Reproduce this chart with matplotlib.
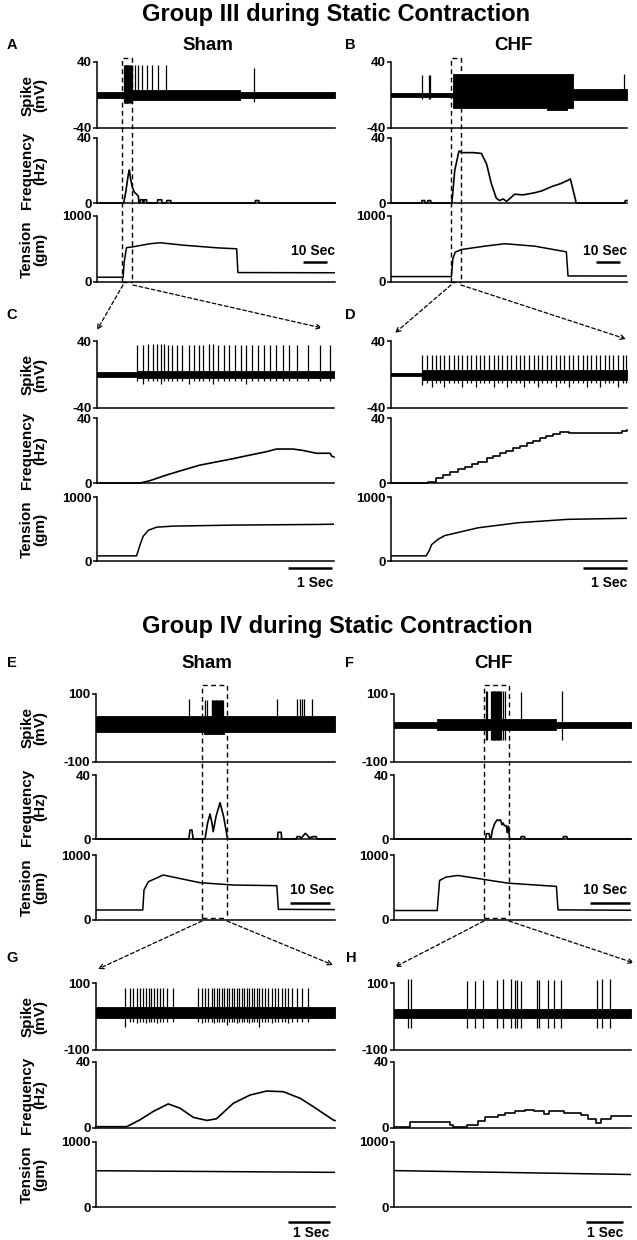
import matplotlib
matplotlib.use('Agg')
import matplotlib.pyplot as plt

plt.rcParams['font.family'] = ['Liberation Sans', 'DejaVu Sans']
plt.rcParams['font.weight'] = 'bold'
plt.rcParams['axes.unicode_minus'] = False

# ---------------- DATA ----------------
# Group III Sham (A), time in s
A_band_t = [0, 11.3, 60.0, 100]
A_band_c = [0, 0, 0, 0]
A_band_h = [3.5, 6.5, 3.5, 3.5]
A_spk_t = [11.4, 11.6, 11.8, 12.0, 12.2, 12.4, 12.6, 12.8, 13.0, 13.2, 13.5, 13.8, 14.1, 14.4, 14.7,
           16.0, 17.4, 18.8, 20.8, 22.9, 25.7, 29.2, 66.0]
A_spk_top = [36] * 22 + [33]
A_spk_bot = [-10] * 15 + [-6] * 7 + [-8]
A_freq_t = [0, 11.2, 12.0, 13.2, 13.6, 14.2, 15.0, 15.8, 16.6, 17.4, 17.6, 18.1, 18.2, 19.2, 19.3, 19.7, 19.8,
            20.8, 20.9, 25.4, 25.5, 27.2, 27.3, 29.2, 29.3, 31.0, 31.1, 66.5, 66.6, 68.0, 68.1, 100]
A_freq_v = [0, 0, 6, 18, 20.3, 14, 9, 6.5, 5.5, 4, 0, 0, 2, 2, 0, 0, 2, 2, 0, 0, 2, 2, 0, 0, 1.5, 1.5, 0,
            0, 1.5, 1.5, 0, 0]
A_ten_t = [0, 11.0, 11.4, 12.4, 15.3, 22.3, 26.5, 36.3, 50.3, 58.7, 59.2, 100]
A_ten_v = [72, 72, 300, 520, 534, 580, 595, 558, 518, 503, 143, 140]

# Group III CHF (B)
B_band_t = [0, 26.3, 66.0, 74.5, 77.1, 100]
B_band_c = [0, 5, 4, 5, 0.5, 0.5]
B_band_h = [3, 21, 22, 21, 6.5, 6.5]
B_spk_t = [13.3, 16.1, 16.7, 98.7]
B_spk_top = [24, 24, 24, 25.5]
B_spk_bot = [-5, -5, -5, -5]
B_freq_t = [0, 13.0, 13.1, 14.3, 14.4, 15.5, 15.6, 16.8, 16.9, 25.8, 27.0, 28.8, 30.0, 35.0, 38.3, 40.5,
            42.5, 44.6, 46.0, 47.5, 49.0, 52.4, 56.0, 60.9, 64.0, 67.9, 72.0, 75.0, 76.0, 78.5, 99.0, 99.3, 100]
B_freq_v = [0, 0, 1.5, 1.5, 0, 0, 1.5, 1.5, 0, 0, 20, 32, 31, 31, 30.5, 24, 12, 3, 1.5, 2.5, 1, 5.4, 5,
            6.3, 7.5, 10, 12, 14, 14.8, 0, 0, 1.5, 1.5]
B_ten_t = [0, 25.6, 26.2, 27.2, 29.8, 39.7, 48.2, 60.9, 74.3, 75.0, 100]
B_ten_v = [82, 82, 350, 451, 492, 543, 580, 543, 457, 92, 90]

# Group III Sham expanded (C)
C_band_t = [0, 0.9, 5.39]
C_band_c = [0, 0, 0]
C_band_h = [2.5, 4.5, 4.5]
C_spk_t = [0.90, 1.04, 1.17, 1.28, 1.37, 1.45, 1.52, 1.61, 1.71, 1.81, 1.94, 2.09, 2.20, 2.32, 2.42, 2.55,
           2.64, 2.76, 2.89, 3.01, 3.14, 3.27, 3.40, 3.53, 3.67, 3.80, 3.93, 4.08, 4.22, 4.37, 4.54, 4.79,
           5.08, 5.30]
C_spk_top = [35, 35, 36, 36, 37, 37, 36, 35, 35, 35, 35, 35, 35, 35, 35, 37, 37, 35, 35, 35, 35, 35, 35,
             35, 35, 35, 35, 35, 35, 35, 35, 35, 35, 35]
C_spk_bot = [-8, -11, -8, -8, -8, -11, -8, -8, -8, -8, -8, -11, -8, -8, -8, -8, -11, -8, -8, -8, -8, -8,
             -11, -8, -8, -8, -8, -8, -8, -8, -8, -8, -8, -8]
C_freq_t = [0, 0.98, 1.20, 1.58, 1.96, 2.34, 2.72, 3.10, 3.48, 3.86, 4.08, 4.46, 4.69, 4.99, 5.30, 5.34, 5.39]
C_freq_v = [0, 0, 1.4, 4.9, 8.0, 11.0, 13.0, 15.0, 17.2, 19.3, 20.9, 20.9, 20.0, 18.3, 18.3, 16.5, 16.0]
C_ten_t = [0, 0.90, 0.98, 1.05, 1.17, 1.36, 1.73, 3.10, 4.99, 5.39]
C_ten_v = [80, 80, 254, 386, 481, 529, 545, 561, 571, 575]

# Group III CHF expanded (D)
D_band_t = [0, 0.71, 5.36]
D_band_c = [0, -1, -1]
D_band_h = [1.5, 6, 6]
D_spk_t = [0.71, 0.81, 0.93, 1.02, 1.11, 1.21, 1.32, 1.42, 1.52, 1.62, 1.72, 1.82, 1.92, 2.02, 2.12, 2.23,
           2.33, 2.43, 2.53, 2.63, 2.73, 2.84, 2.93, 3.03, 3.14, 3.24, 3.34, 3.44, 3.54, 3.64, 3.74, 3.84,
           3.94, 4.05, 4.14, 4.24, 4.35, 4.45, 4.55, 4.65, 4.75, 4.85, 4.95, 5.05, 5.15, 5.26, 5.34]
D_spk_top = [23] * 47
D_spk_bot = [-12, -10, -15, -10, -10, -15, -10, -10, -10, -15, -10, -10, -15, -10, -10, -10, -15, -10,
             -10, -15, -10, -10, -10, -15, -10, -10, -15, -10, -10, -10, -15, -10, -10, -15, -10, -10,
             -10, -15, -10, -10, -15, -10, -10, -10, -15, -10, -10]
D_freq_t = [0, 0.84, 1.03, 1.18, 1.33, 1.52, 1.67, 1.83, 1.98, 2.17, 2.32, 2.47, 2.62, 2.77, 2.92, 3.08,
            3.23, 3.38, 3.53, 3.68, 3.83, 3.95, 4.05, 5.08, 5.25, 5.36]
D_freq_v = [0, 0.8, 2.9, 4.9, 7.0, 8.4, 10.1, 11.7, 13.1, 15.2, 16.8, 18.3, 19.9, 21.3, 23.0, 24.4, 26.0,
            27.5, 28.9, 30.2, 31.2, 31.6, 30.6, 30.6, 31.8, 32.6]
D_ten_t = [0, 0.80, 0.88, 0.92, 1.07, 1.22, 1.98, 2.89, 4.02, 5.36]
D_ten_v = [80, 80, 180, 254, 340, 397, 519, 598, 651, 667]

# Group IV Sham (E)
E_band_t = [0, 27.0, 32.0, 59.75]
E_band_c = [12, 8, 12, 12]
E_band_h = [23, 27, 23, 23]
E_spk_t = [23.3, 27.25, 27.7, 28.9, 29.1, 29.3, 29.5, 29.7, 29.9, 30.1, 30.3, 30.5, 30.7, 30.9, 31.1, 31.3,
           31.5, 31.8, 45.3, 50.2, 51.0, 51.4, 52.0, 53.9]
E_spk_top = [85] + [83] * 17 + [85] * 6
E_spk_bot = [0] * 24
E_freq_t = [0, 23.2, 23.5, 24.0, 24.3, 27.25, 27.9, 28.5, 29.0, 29.3, 30.0, 31.0, 31.9, 32.9, 45.4, 45.5,
            46.3, 46.4, 50.0, 50.3, 50.9, 51.3, 51.8, 52.3, 52.8, 53.2, 53.8, 54.3, 55.0, 55.3, 59.75]
E_freq_v = [0, 0, 5.6, 5.6, 0, 0, 10, 15.6, 10, 4.6, 14, 22.7, 14, 0, 0, 4.2, 4.2, 0, 0, 1.5, 1.5, 0.5,
            2, 3.5, 2.5, 1, 1, 1.5, 1.5, 0, 0]
E_ten_t = [0, 11.7, 12.0, 13.1, 16.8, 26.0, 34.3, 45.2, 45.6, 59.75]
E_ten_v = [154, 154, 462, 589, 692, 574, 538, 528, 164, 160]

# Group IV CHF (F)
F_band_t = [0, 10.8, 40.6, 59.25]
F_band_c = [10, 10, 10, 10]
F_band_h = [9, 17, 9, 9]
F_spk_t = [22.9, 23.3, 24.3, 24.5, 24.7, 24.9, 25.1, 25.3, 25.5, 25.7, 25.9, 26.1, 26.3, 26.5, 26.7,
           27.25, 27.8, 31.7, 42.1]
F_spk_top = [110] * 17 + [105, 110]
F_spk_bot = [-34] * 17 + [-4, -34]
F_freq_t = [0, 22.9, 23.1, 23.8, 24.0, 24.3, 24.6, 25.2, 25.8, 26.2, 26.6, 27.0, 27.25, 27.6, 28.1,
            28.3, 28.6, 28.9, 31.6, 31.8, 32.6, 32.8, 42.2, 42.4, 43.2, 43.4, 59.25]
F_freq_v = [0, 0, 3.3, 3.3, 0.5, 1, 5.6, 9.8, 12, 11.5, 12, 9, 10, 8.3, 8.3, 4, 8, 0, 0, 1.5, 1.5, 0, 0,
            1.5, 1.5, 0, 0]
F_ten_t = [0, 10.8, 11.4, 13.0, 16.0, 28.5, 40.6, 41.0, 59.25]
F_ten_v = [146, 146, 608, 660, 685, 567, 517, 156, 150]

# Group IV Sham expanded (G)
G_band_t = [0, 5.69]
G_band_c = [12, 12]
G_band_h = [16, 16]
G_spk_t = [0.69, 0.81, 0.89, 0.97, 1.05, 1.11, 1.18, 1.25, 1.31, 1.38, 1.45, 1.52, 1.60, 1.68, 1.84,
           2.44, 2.52, 2.60, 2.67, 2.75, 2.82, 2.87, 2.93, 2.99, 3.05, 3.11, 3.17, 3.23, 3.29, 3.35, 3.40,
           3.47, 3.52, 3.59, 3.64, 3.71, 3.77, 3.83, 3.89, 3.95, 4.02, 4.10, 4.18, 4.26, 4.34, 4.42, 4.50,
           4.58, 4.66, 4.78, 4.91, 5.05]
G_spk_top = [86] * 52
G_spk_bot = [-30, -15, -15, -20, -15, -15, -20, -15, -15, -15, -20, -15, -15, -15, -15, -15, -20, -15,
             -15, -15, -20, -15, -15, -15, -15, -25, -15, -15, -15, -20, -15, -15, -15, -15, -20, -15,
             -15, -15, -30, -15, -15, -15, -20, -15, -15, -15, -15, -20, -15, -15, -15, -15]
G_freq_t = [0, 0.73, 1.05, 1.36, 1.72, 2.0, 2.32, 2.64, 2.87, 3.27, 3.67, 4.06, 4.46, 4.86, 5.17, 5.64, 5.69]
G_freq_v = [0.8, 0.8, 5, 10, 14.6, 12, 6.4, 4.6, 5.6, 15, 20, 22.4, 22, 18, 13, 5, 4.5]
G_ten_t = [0, 5.69]
G_ten_v = [558, 533]

# Group IV CHF expanded (H)
H_band_t = [0, 6.41]
H_band_c = [10, 10]
H_band_h = [13, 13]
H_spk_t = [0.38, 0.47, 1.97, 2.20, 2.41, 2.78, 2.95, 3.17, 3.26, 3.32, 3.44, 3.87, 3.91, 4.16, 4.34, 4.51,
           5.49, 5.62, 5.83]
H_spk_top = [112, 112, 105, 105, 108, 108, 112, 112, 110, 108, 105, 108, 108, 108, 108, 108, 108, 112, 112]
H_spk_bot = [-35] * 19
H_freq_t = [0, 0.42, 1.51, 1.59, 1.98, 2.27, 2.45, 2.81, 2.99, 3.26, 3.53, 3.80, 4.07, 4.18, 4.25, 4.61,
            5.06, 5.24, 5.45, 5.60, 5.87, 6.41]
H_freq_v = [0.5, 3.4, 2.0, 0.5, 2.0, 4.4, 6.6, 8.0, 9.3, 10.5, 11.0, 10.3, 8.5, 10.3, 10.3, 9.3, 8.0, 5.3,
            3.2, 5.3, 7.3, 7.3]
H_ten_t = [0, 6.41]
H_ten_v = [560, 500]

spike_ticks_III = [-40, 40]
spike_ticks_IV = [-100, 100]
freq_ticks = [0, 40]
ten_ticks = [0, 1000]

# ---------------- LAYOUT ----------------
W, H = 637, 1240
fig = plt.figure(figsize=(W / 100, H / 100), dpi=100)


def add_ax(x0, x1, ytop, ybot):
    return fig.add_axes([x0 / W, 1 - ybot / H, (x1 - x0) / W, (ybot - ytop) / H])


def style(ax, ticks, tmax):
    ax.set_xlim(0, tmax)
    ax.set_ylim(ticks[0], ticks[1])
    ax.set_yticks(ticks)
    ax.set_yticklabels([str(t) for t in ticks])
    ax.set_xticks([])
    for s in ['top', 'right']:
        ax.spines[s].set_visible(False)
    for s in ['left', 'bottom']:
        ax.spines[s].set_linewidth(1.1)
    ax.tick_params(axis='y', direction='out', length=3, width=1.1, labelsize=9.5, pad=1)
    ax.patch.set_alpha(0)


def panel(x0, x1, ys, tmax, sticks, band, spk, freq, ten, freq_steps=False):
    a1 = add_ax(x0, x1, ys[0], ys[1])
    a2 = add_ax(x0, x1, ys[2], ys[3])
    a3 = add_ax(x0, x1, ys[4], ys[5])
    bt, bc, bh = band
    a1.fill_between(bt, [c - h for c, h in zip(bc, bh)], [c + h for c, h in zip(bc, bh)],
                    step='post', color='black', lw=0.6)
    st, stop, sbot = spk
    a1.vlines(st, sbot, stop, color='black', lw=0.9, clip_on=False)
    style(a1, sticks, tmax)
    ft, fv = freq
    a2.plot(ft, fv, color='black', lw=1.2, drawstyle='steps-post' if freq_steps else 'default',
            clip_on=False)
    style(a2, freq_ticks, tmax)
    tt, tv = ten
    a3.plot(tt, tv, color='black', lw=1.1)
    style(a3, ten_ticks, tmax)
    return a1, a2, a3


yA = (62, 128, 138, 203, 216, 282)
yC = (341, 408, 418, 483, 497, 561)
yE = (694, 762, 775, 839, 855, 920)
yG = (983, 1050, 1062, 1128, 1142, 1207)

panel(97, 335, yA, 100, spike_ticks_III, (A_band_t, A_band_c, A_band_h),
      (A_spk_t, A_spk_top, A_spk_bot), (A_freq_t, A_freq_v), (A_ten_t, A_ten_v))
panel(391, 627, yA, 100, spike_ticks_III, (B_band_t, B_band_c, B_band_h),
      (B_spk_t, B_spk_top, B_spk_bot), (B_freq_t, B_freq_v), (B_ten_t, B_ten_v))
panel(97, 334, yC, 5.39, spike_ticks_III, (C_band_t, C_band_c, C_band_h),
      (C_spk_t, C_spk_top, C_spk_bot), (C_freq_t, C_freq_v), (C_ten_t, C_ten_v))
panel(391, 627, yC, 5.36, spike_ticks_III, (D_band_t, D_band_c, D_band_h),
      (D_spk_t, D_spk_top, D_spk_bot), (D_freq_t, D_freq_v), (D_ten_t, D_ten_v), freq_steps=True)
panel(96, 335, yE, 59.75, spike_ticks_IV, (E_band_t, E_band_c, E_band_h),
      (E_spk_t, E_spk_top, E_spk_bot), (E_freq_t, E_freq_v), (E_ten_t, E_ten_v))
panel(394, 631, yE, 59.25, spike_ticks_IV, (F_band_t, F_band_c, F_band_h),
      (F_spk_t, F_spk_top, F_spk_bot), (F_freq_t, F_freq_v), (F_ten_t, F_ten_v))
panel(96, 335, yG, 5.69, spike_ticks_IV, (G_band_t, G_band_c, G_band_h),
      (G_spk_t, G_spk_top, G_spk_bot), (G_freq_t, G_freq_v), (G_ten_t, G_ten_v))
panel(394, 631, yG, 6.41, spike_ticks_IV, (H_band_t, H_band_c, H_band_h),
      (H_spk_t, H_spk_top, H_spk_bot), (H_freq_t, H_freq_v), (H_ten_t, H_ten_v), freq_steps=True)

# overlay in pixel coordinates
ov = fig.add_axes([0, 0, 1, 1], zorder=10)
ov.set_xlim(0, W)
ov.set_ylim(H, 0)
ov.axis('off')
ov.patch.set_alpha(0)

ov.text(336, 15, 'Group III during Static Contraction', ha='center', va='center', fontsize=17,
        fontweight='bold')
ov.text(337, 627, 'Group IV during Static Contraction', ha='center', va='center', fontsize=17,
        fontweight='bold')
for x, y, s in [(208, 45, 'Sham'), (513, 45, 'CHF'), (207, 663, 'Sham'), (493, 663, 'CHF')]:
    ov.text(x, y, s, ha='center', va='center', fontsize=13.5, fontweight='bold')
for x, y, s in [(12, 45, 'A'), (350, 45, 'B'), (12, 315, 'C'), (350, 315, 'D'),
                (12, 663, 'E'), (349, 663, 'F'), (12, 958, 'G'), (351, 958, 'H')]:
    ov.text(x, y, s, ha='center', va='center', fontsize=10.5, fontweight='bold')

for ys in (yA, yC, yE, yG):
    for (ya, yb), lab in zip([(ys[0], ys[1]), (ys[2], ys[3]), (ys[4], ys[5])],
                             ['Spike\n(mV)', 'Frequency\n(Hz)', 'Tension\n(gm)']):
        ov.text(34, (ya + yb) / 2, lab, rotation=90, ha='center', va='center', fontsize=11,
                fontweight='bold', linespacing=0.95, multialignment='center')

# scale bars
for x0, x1, y, tx, ty, s in [(303, 327, 262, 313, 251, '10 Sec'), (596, 620, 262, 605, 251, '10 Sec'),
                              (288, 332, 568, 315, 583, '1 Sec'), (583, 627, 568, 609, 583, '1 Sec'),
                              (290, 330, 903, 312, 890, '10 Sec'), (590, 630, 903, 605, 890, '10 Sec'),
                              (288, 330, 1222, 311, 1233, '1 Sec'), (586, 623, 1222, 605, 1233, '1 Sec')]:
    ov.plot([x0, x1], [y, y], color='black', lw=1.8, solid_capstyle='butt')
    ov.text(tx, ty, s, ha='center', va='center', fontsize=10, fontweight='bold')

# dashed zoom boxes
dash = (0, (3.5, 2.5))
for x0, x1, y0, y1 in [(122, 132, 58, 282), (451, 461, 58, 282), (202, 227, 685, 918), (484, 509, 685, 918)]:
    ov.plot([x0, x0, x1, x1], [y1, y0, y0, y1], color='black', lw=1.0, linestyle=dash)
    ov.plot([x0, x1], [y1, y1], color='black', lw=1.0, linestyle=dash)

for (sx, sy), (ex, ey) in [((123, 285), (97, 330)), ((133, 285), (322, 328)),
                           ((451, 285), (395, 333)), ((461, 285), (626, 339)),
                           ((202, 921), (98, 969)), ((227, 921), (333, 965)),
                           ((484, 921), (395, 967)), ((509, 921), (634, 963))]:
    ov.annotate('', xy=(ex, ey), xytext=(sx, sy),
                arrowprops=dict(arrowstyle='->', linestyle=(0, (3, 2)), lw=0.9, color='black',
                                shrinkA=0, shrinkB=0, mutation_scale=8))

fig.savefig('out.png', dpi=100)
